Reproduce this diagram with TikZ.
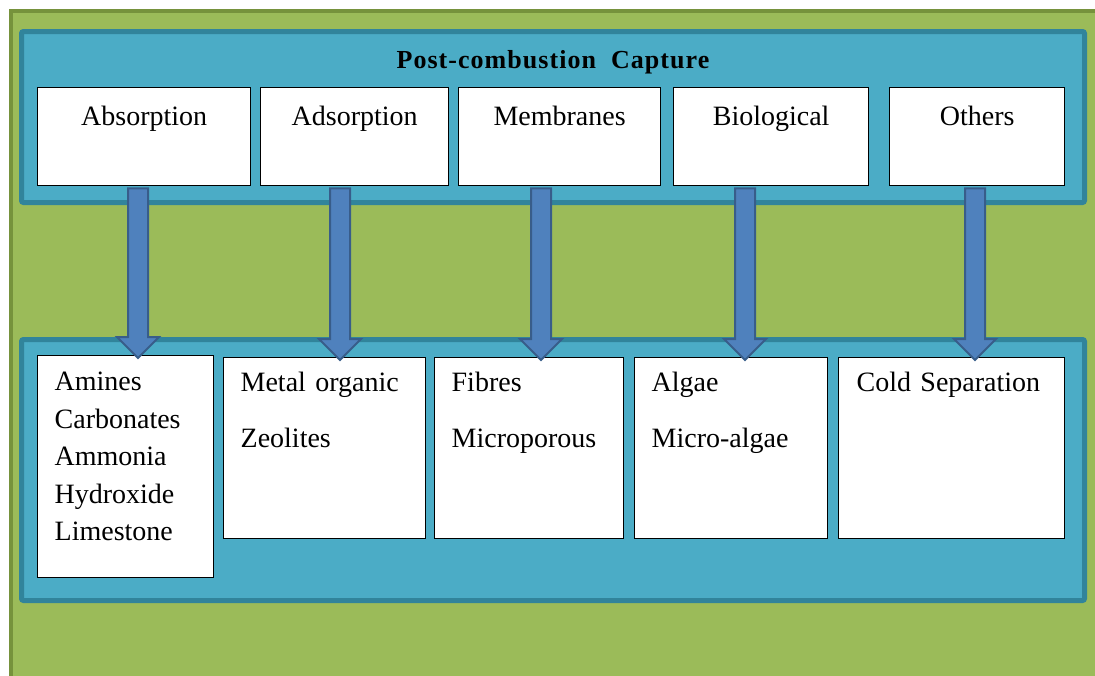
\documentclass[tikz,border=0pt]{standalone}
\usepackage{fontspec}
\setmainfont{Liberation Serif}
\newfontfamily\titlefont[LetterSpace=4]{Liberation Serif}
\usetikzlibrary{calc}
\definecolor{bggreen}{HTML}{9BBB59}
\definecolor{greenborder}{HTML}{76923C}
\definecolor{panelblue}{HTML}{4BACC6}
\definecolor{panelborder}{HTML}{31849B}
\definecolor{arrowfill}{HTML}{4F81BD}
\definecolor{arrowborder}{HTML}{385D8A}
\begin{document}
\begin{tikzpicture}[x=1pt,y=-1pt,
  panel/.style={draw=panelborder, fill=panelblue, line width=5pt, rounded corners=2pt},
  topbox/.style={draw=black, line width=1.3pt, fill=white, inner sep=0pt,
    text height=38pt, text depth=60pt, anchor=north west,
    font=\fontsize{28}{32}\selectfont},
  botbox/.style={draw=black, line width=1.3pt, fill=white, inner ysep=0pt, inner xsep=17pt,
    align=left, anchor=north west, text height=34pt, text depth=147pt,
    font=\fontsize{28}{37.5}\selectfont},
  bigarrow/.style={fill=arrowfill, draw=arrowborder, line width=2pt, line join=miter}
]
\useasboundingbox (0,0) rectangle (1095,675);
\fill[white] (0,0) rectangle (1095,675);
\draw[fill=bggreen, draw=greenborder, line width=4pt] (10.5,10.5) rectangle (1120,700);

\draw[panel] (21.5,31.5) rectangle (1084.5,202.5);
\draw[panel] (21.5,339.5) rectangle (1084.5,600.5);

\node[font=\titlefont\fontsize{26}{30}\selectfont\bfseries] (title) at (553,62.5) {Post-combustion\ \ Capture};

\node[topbox, minimum width=213pt] (t1) at (37,87) {Absorption};
\node[topbox, minimum width=188pt] (t2) at (260,87) {Adsorption};
\node[topbox, minimum width=202pt] (t3) at (458,87) {Membranes};
\node[topbox, minimum width=195pt] (t4) at (673,87) {Biological};
\node[topbox, minimum width=175pt] (t5) at (889,87) {Others};

\node[botbox, text width=142pt, text height=35pt, text depth=187pt] (b1) at (37,355)
  {Amines\\Carbonates\\Ammonia\\Hydroxide\\Limestone};
\node[botbox, text width=168pt] (b2) at (223,357) {Metal organic\\[18.5pt]Zeolites};
\node[botbox, text width=155pt] (b3) at (434,357) {Fibres\\[18.5pt]Microporous};
\node[botbox, text width=159pt] (b4) at (634,357) {Algae\\[18.5pt]Micro-algae};
\node[botbox, inner xsep=18pt, text width=190pt] (b5) at (838,357) {Cold Separation};

\foreach \i/\x in {1/138,2/340,3/541,4/745,5/975}{
  \coordinate (s\i) at (t\i.south -| \x,0);
  \coordinate (e\i) at (b\i.north -| \x,0);
  \draw[bigarrow] ($(s\i)+(-10,2)$) -- ($(s\i)+(10,2)$) -- ($(e\i)+(10,-18)$)
    -- ($(e\i)+(21,-18)$) -- ($(e\i)+(0,3)$) -- ($(e\i)+(-21,-18)$)
    -- ($(e\i)+(-10,-18)$) -- cycle;
}
\end{tikzpicture}
\end{document}
